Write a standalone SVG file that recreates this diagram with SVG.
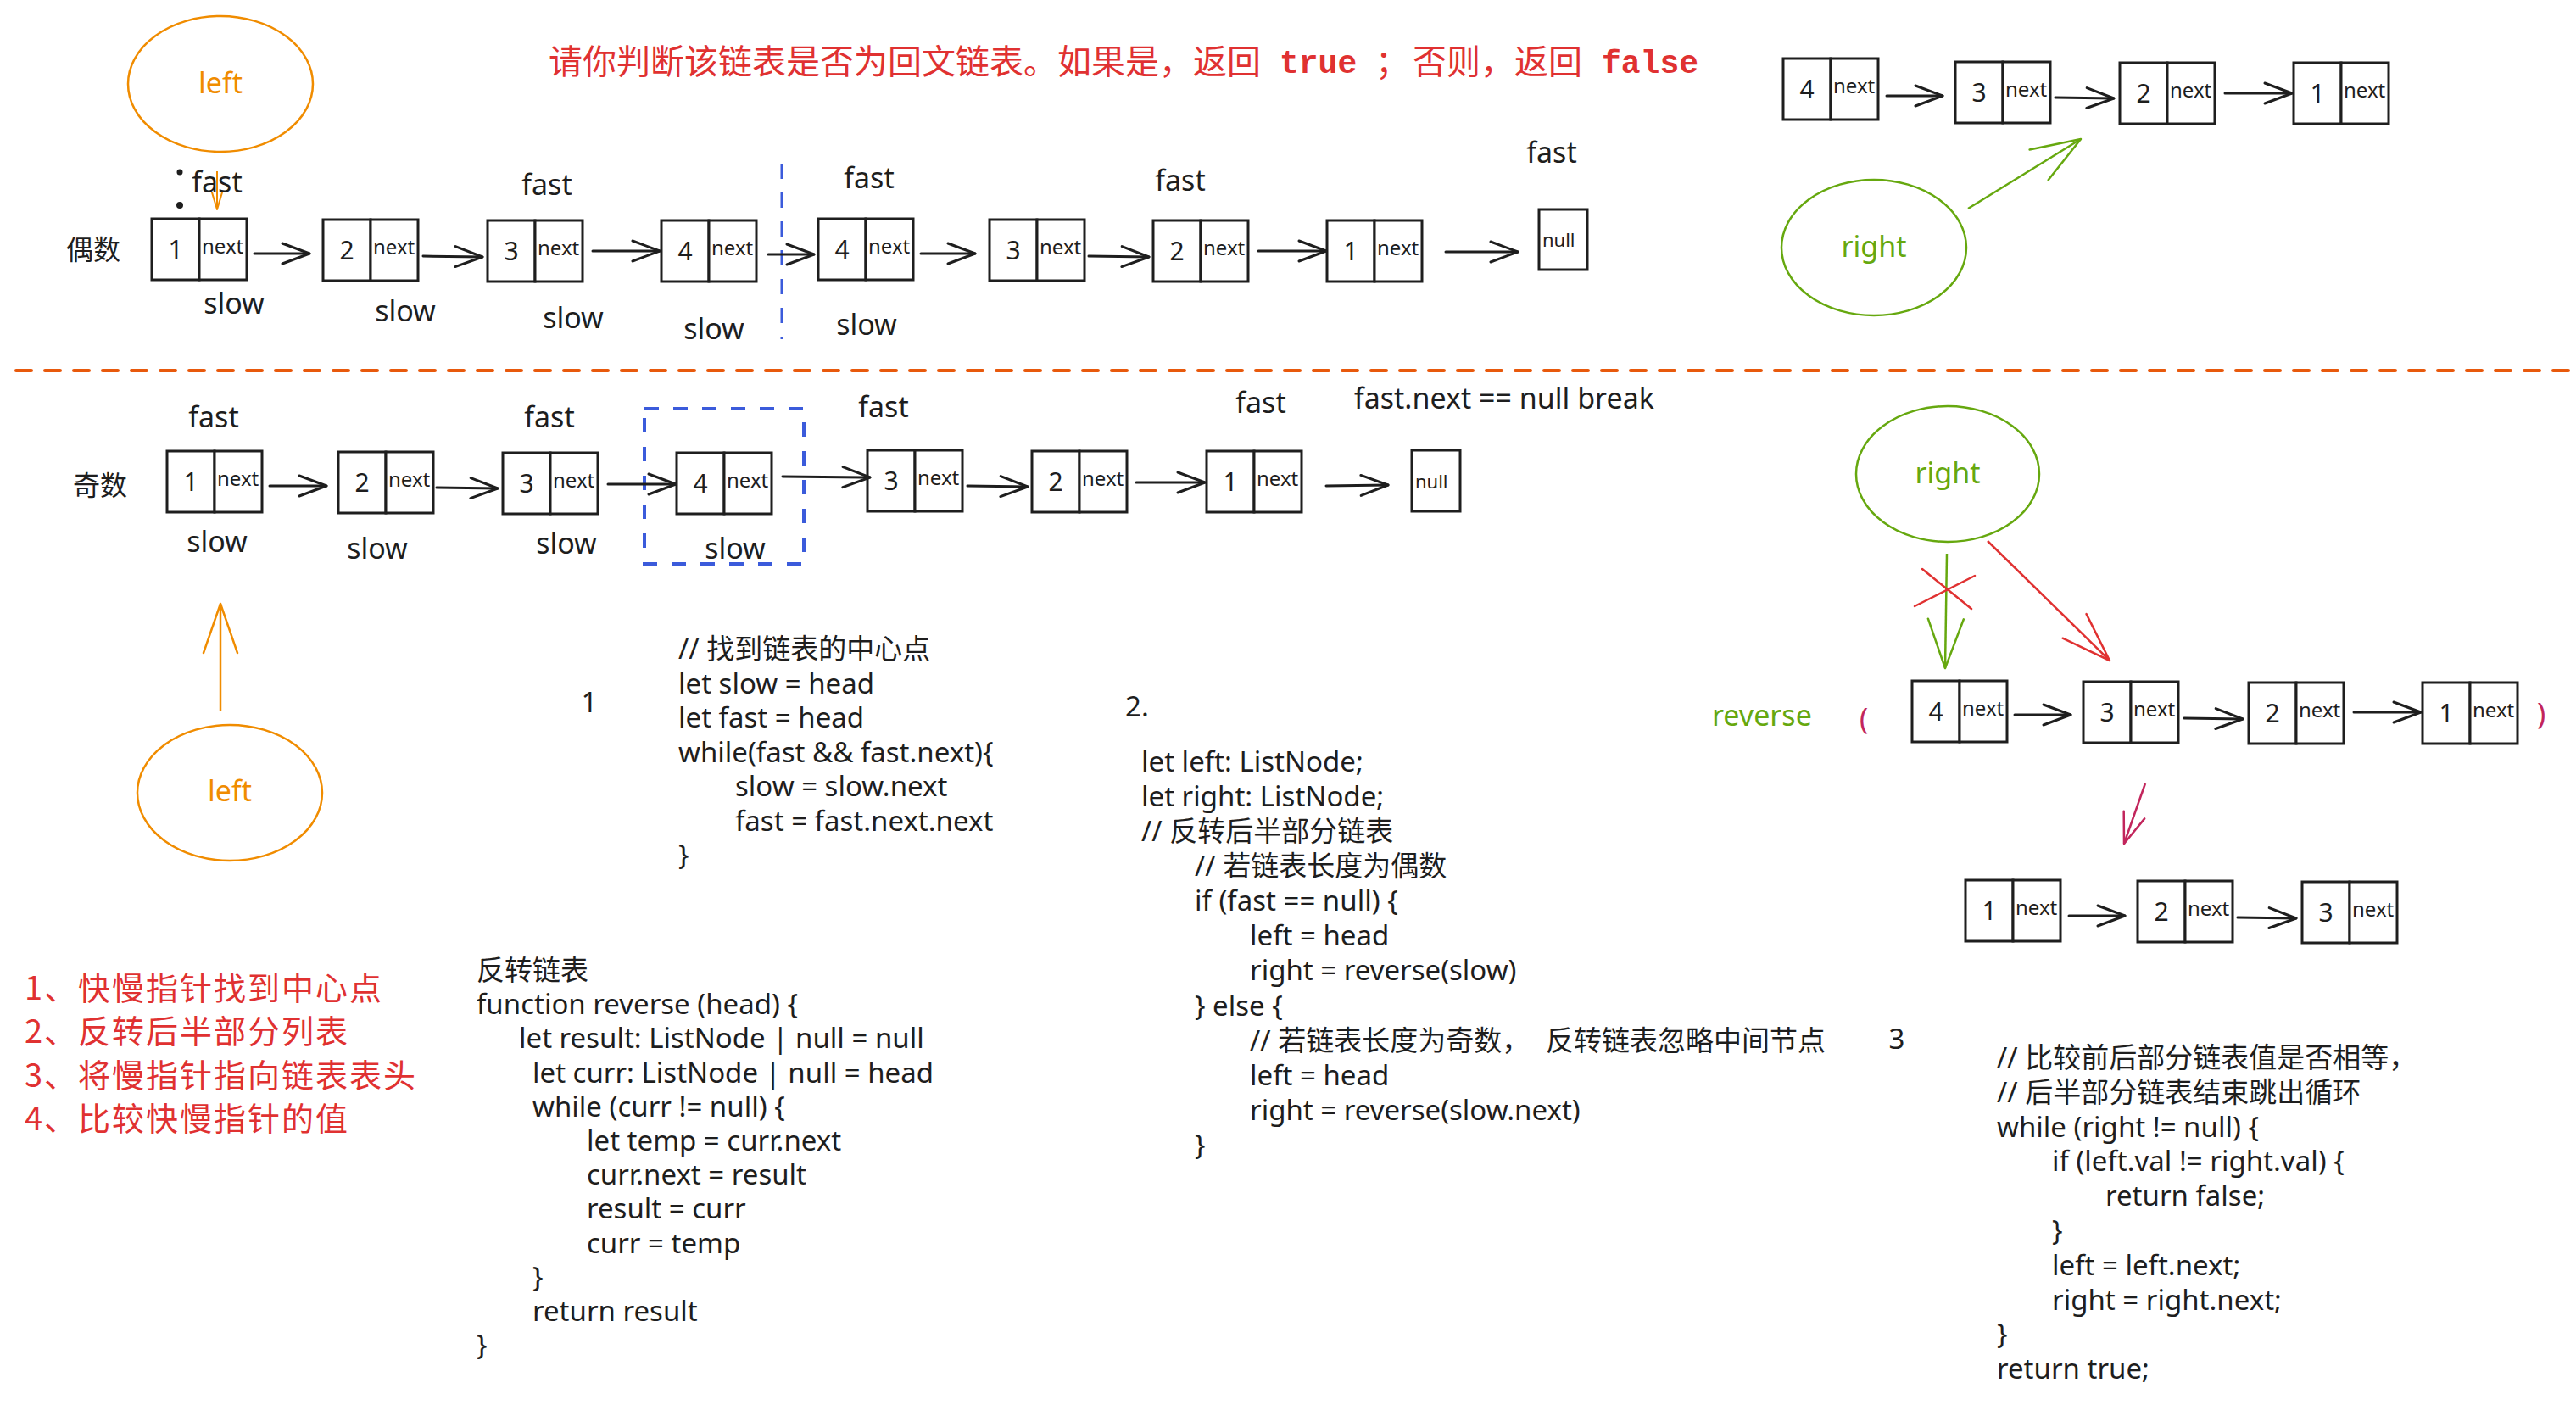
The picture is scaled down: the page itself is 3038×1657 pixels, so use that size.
<svg xmlns="http://www.w3.org/2000/svg" xmlns:xlink="http://www.w3.org/1999/xlink" width="3038" height="1657" viewBox="0 0 3038 1657">
<style>
  .t{font-family:"Noto Sans","Noto Sans CJK SC",sans-serif;fill:#1e1e1e}
  .code{font-size:33px}
  .lab{font-size:34px;text-anchor:middle}
  .num{font-size:30px;text-anchor:middle}
  .nx{font-size:24px}
  .cell{fill:#ffffff;stroke:#1e1e1e;stroke-width:3}
  .ln{fill:none;stroke:#1e1e1e;stroke-width:3;stroke-linecap:round;marker-end:url(#ahK)}
  .red{fill:#e03131}
  .orange{fill:#f08c00}
  .green{fill:#66a80f}
  .crim{fill:#c2255c}
</style>
<defs>
  <marker id="ahK" markerUnits="userSpaceOnUse" viewBox="-40 -20 44 40" markerWidth="44" markerHeight="40" refX="0" refY="0" orient="auto" overflow="visible"><path d="M-32,-12 L0,0 L-32,12" fill="none" stroke="#1e1e1e" stroke-width="3" stroke-linecap="round" stroke-linejoin="round"/></marker>
  <marker id="ahO" markerUnits="userSpaceOnUse" viewBox="-64 -26 68 52" markerWidth="68" markerHeight="52" refX="0" refY="0" orient="auto" overflow="visible"><path d="M-58,-20 L0,0 L-58,20" fill="none" stroke="#f08c00" stroke-width="2.5" stroke-linecap="round" stroke-linejoin="round"/></marker>
  <marker id="ahOs" markerUnits="userSpaceOnUse" viewBox="-24 -10 28 20" markerWidth="28" markerHeight="20" refX="0" refY="0" orient="auto" overflow="visible"><path d="M-20,-6 L0,0 L-20,6" fill="none" stroke="#f08c00" stroke-width="2" stroke-linecap="round" stroke-linejoin="round"/></marker>
  <marker id="ahG" markerUnits="userSpaceOnUse" viewBox="-64 -28 68 56" markerWidth="68" markerHeight="56" refX="0" refY="0" orient="auto" overflow="visible"><path d="M-58,-21 L0,0 L-58,21" fill="none" stroke="#66a80f" stroke-width="2.5" stroke-linecap="round" stroke-linejoin="round"/></marker>
  <marker id="ahR" markerUnits="userSpaceOnUse" viewBox="-64 -26 68 52" markerWidth="68" markerHeight="52" refX="0" refY="0" orient="auto" overflow="visible"><path d="M-58,-20 L0,0 L-58,20" fill="none" stroke="#e03131" stroke-width="2.5" stroke-linecap="round" stroke-linejoin="round"/></marker>
  <marker id="ahC" markerUnits="userSpaceOnUse" viewBox="-40 -18 44 36" markerWidth="44" markerHeight="36" refX="0" refY="0" orient="auto" overflow="visible"><path d="M-36,-13 L0,0 L-36,13" fill="none" stroke="#c2255c" stroke-width="2.5" stroke-linecap="round" stroke-linejoin="round"/></marker>
  <g id="node">
    <rect class="cell" x="0" y="0" width="56" height="72"/>
    <rect class="cell" x="56" y="0" width="56" height="72"/>
    <text class="t nx" x="59" y="41">next</text>
  </g>
</defs>
<rect x="0" y="0" width="3038" height="1657" fill="#ffffff"/>

<!-- title -->
<g id="title" font-size="40">
  <text x="647" y="87" font-family="Noto Sans CJK SC, sans-serif" class="red">请你判断该链表是否为回文链表。如果是，返回</text>
  <text x="1509" y="86" font-family="Liberation Mono, monospace" font-size="38" font-weight="bold" class="red">true</text>
  <text x="1622" y="87" font-family="Noto Sans CJK SC, sans-serif" class="red">；</text>
  <text x="1666" y="87" font-family="Noto Sans CJK SC, sans-serif" class="red">否则，返回</text>
  <text x="1889" y="86" font-family="Liberation Mono, monospace" font-size="38" font-weight="bold" class="red">false</text>
</g>

<!-- separators and highlights -->
<g id="separators">
  <line x1="19" y1="437" x2="3030" y2="437" stroke="#e8590c" stroke-width="4" stroke-dasharray="18 16" stroke-linecap="round"/>
  <line x1="922" y1="193" x2="922" y2="400" stroke="#3b5bdb" stroke-width="3" stroke-dasharray="18 16"/>
  <rect id="mid-box" x="760" y="482" width="188" height="183" fill="none" stroke="#3b5bdb" stroke-width="4" stroke-dasharray="17 17"/>
</g>

<!-- pointer ellipses -->
<g id="left-top"><ellipse cx="260" cy="99" rx="109" ry="80" fill="none" stroke="#f08c00" stroke-width="2.5"/><text class="t lab orange" x="260" y="110">left</text></g>
<g id="right-top"><ellipse cx="2210" cy="292" rx="109" ry="80" fill="none" stroke="#66a80f" stroke-width="2.5"/><text class="t lab green" x="2210" y="303">right</text></g>
<g id="right-bottom"><ellipse cx="2297" cy="559" rx="108" ry="80" fill="none" stroke="#66a80f" stroke-width="2.5"/><text class="t lab green" x="2297" y="570">right</text></g>
<g id="left-bottom"><ellipse cx="271" cy="935" rx="109" ry="80" fill="none" stroke="#f08c00" stroke-width="2.5"/><text class="t lab orange" x="271" y="945">left</text></g>

<!-- even row -->
<g id="even-label"><text class="t" font-size="32" x="78" y="306">偶数</text></g>
<g id="e1" transform="translate(179,258)"><use href="#node"/><text class="t num" x="28" y="47">1</text></g>
<g id="e2" transform="translate(381,259)"><use href="#node"/><text class="t num" x="28" y="47">2</text></g>
<g id="e3" transform="translate(575,260)"><use href="#node"/><text class="t num" x="28" y="47">3</text></g>
<g id="e4" transform="translate(780,260)"><use href="#node"/><text class="t num" x="28" y="47">4</text></g>
<g id="e5" transform="translate(965,258)"><use href="#node"/><text class="t num" x="28" y="47">4</text></g>
<g id="e6" transform="translate(1167,259)"><use href="#node"/><text class="t num" x="28" y="47">3</text></g>
<g id="e7" transform="translate(1360,260)"><use href="#node"/><text class="t num" x="28" y="47">2</text></g>
<g id="e8" transform="translate(1565,260)"><use href="#node"/><text class="t num" x="28" y="47">1</text></g>
<g id="enull" transform="translate(1815,247)"><rect class="cell" x="0" y="0" width="57" height="71"/><text class="t" font-size="22" x="4" y="44">null</text></g>

<g id="even-labels">
  <circle cx="212" cy="203" r="3.5" fill="#1e1e1e"/>
  <circle cx="212" cy="242" r="4" fill="#1e1e1e"/>
  <text class="t lab" x="256" y="227">fast</text>
  <text class="t lab" x="645" y="230">fast</text>
  <text class="t lab" x="1025" y="222">fast</text>
  <text class="t lab" x="1392" y="225">fast</text>
  <text class="t lab" x="1830" y="192">fast</text>
  <text class="t lab" x="276" y="370">slow</text>
  <text class="t lab" x="478" y="379">slow</text>
  <text class="t lab" x="676" y="387">slow</text>
  <text class="t lab" x="842" y="400">slow</text>
  <text class="t lab" x="1022" y="395">slow</text>
</g>

<!-- odd row -->
<g id="odd-label"><text class="t" font-size="32" x="86" y="584">奇数</text></g>
<g id="o1" transform="translate(197,532)"><use href="#node"/><text class="t num" x="28" y="47">1</text></g>
<g id="o2" transform="translate(399,533)"><use href="#node"/><text class="t num" x="28" y="47">2</text></g>
<g id="o3" transform="translate(593,534)"><use href="#node"/><text class="t num" x="28" y="47">3</text></g>
<g id="o4" transform="translate(798,534)"><use href="#node"/><text class="t num" x="28" y="47">4</text></g>
<g id="o5" transform="translate(1023,531)"><use href="#node"/><text class="t num" x="28" y="47">3</text></g>
<g id="o6" transform="translate(1217,532)"><use href="#node"/><text class="t num" x="28" y="47">2</text></g>
<g id="o7" transform="translate(1423,532)"><use href="#node"/><text class="t num" x="28" y="47">1</text></g>
<g id="onull" transform="translate(1665,531)"><rect class="cell" x="0" y="0" width="57" height="72"/><text class="t" font-size="22" x="4" y="45">null</text></g>

<g id="odd-labels">
  <text class="t lab" x="252" y="504">fast</text>
  <text class="t lab" x="648" y="504">fast</text>
  <text class="t lab" x="1042" y="492">fast</text>
  <text class="t lab" x="1487" y="487">fast</text>
  <text class="t" font-size="34" x="1597" y="482">fast.next == null break</text>
  <text class="t lab" x="256" y="651">slow</text>
  <text class="t lab" x="445" y="659">slow</text>
  <text class="t lab" x="668" y="653">slow</text>
  <text class="t lab" x="867" y="659">slow</text>
</g>

<!-- top-right reversed list -->
<g id="r1" transform="translate(2103,69)"><use href="#node"/><text class="t num" x="28" y="47">4</text></g>
<g id="r2" transform="translate(2306,73)"><use href="#node"/><text class="t num" x="28" y="47">3</text></g>
<g id="r3" transform="translate(2500,74)"><use href="#node"/><text class="t num" x="28" y="47">2</text></g>
<g id="r4" transform="translate(2705,74)"><use href="#node"/><text class="t num" x="28" y="47">1</text></g>

<!-- reverse(...) row -->
<g id="reverse-label">
  <text class="t green" font-size="34" x="2019" y="856">reverse</text>
  <text class="t crim" font-size="34" x="2193" y="860">(</text>
  <text class="t crim" font-size="34" x="2992" y="854">)</text>
</g>
<g id="v1" transform="translate(2255,803)"><use href="#node"/><text class="t num" x="28" y="47">4</text></g>
<g id="v2" transform="translate(2457,804)"><use href="#node"/><text class="t num" x="28" y="47">3</text></g>
<g id="v3" transform="translate(2652,805)"><use href="#node"/><text class="t num" x="28" y="47">2</text></g>
<g id="v4" transform="translate(2857,805)"><use href="#node"/><text class="t num" x="28" y="47">1</text></g>

<g id="w1" transform="translate(2318,1038)"><use href="#node"/><text class="t num" x="28" y="47">1</text></g>
<g id="w2" transform="translate(2521,1039)"><use href="#node"/><text class="t num" x="28" y="47">2</text></g>
<g id="w3" transform="translate(2715,1040)"><use href="#node"/><text class="t num" x="28" y="47">3</text></g>

<!-- connectors -->
<g id="connectors">
  <line class="ln" x1="300" y1="299" x2="365" y2="299"/>
  <line class="ln" x1="499" y1="302" x2="569" y2="303"/>
  <line class="ln" x1="699" y1="296" x2="778" y2="296"/>
  <line class="ln" x1="906" y1="300" x2="960" y2="300"/>
  <line class="ln" x1="1086" y1="299" x2="1150" y2="299"/>
  <line class="ln" x1="1284" y1="302" x2="1355" y2="303"/>
  <line class="ln" x1="1484" y1="296" x2="1564" y2="296"/>
  <line class="ln" x1="1705" y1="297" x2="1790" y2="297"/>

  <line class="ln" x1="318" y1="573" x2="385" y2="573"/>
  <line class="ln" x1="515" y1="575" x2="587" y2="576"/>
  <line class="ln" x1="717" y1="571" x2="797" y2="571"/>
  <line class="ln" x1="923" y1="562" x2="1026" y2="563"/>
  <line class="ln" x1="1141" y1="573" x2="1212" y2="574"/>
  <line class="ln" x1="1340" y1="569" x2="1421" y2="569"/>
  <line class="ln" x1="1564" y1="573" x2="1637" y2="572"/>

  <line class="ln" x1="2225" y1="113" x2="2291" y2="113"/>
  <line class="ln" x1="2424" y1="115" x2="2493" y2="116"/>
  <line class="ln" x1="2624" y1="110" x2="2703" y2="110"/>

  <line class="ln" x1="2376" y1="843" x2="2442" y2="843"/>
  <line class="ln" x1="2576" y1="847" x2="2645" y2="848"/>
  <line class="ln" x1="2776" y1="840" x2="2855" y2="840"/>

  <line class="ln" x1="2440" y1="1080" x2="2506" y2="1080"/>
  <line class="ln" x1="2639" y1="1082" x2="2708" y2="1083"/>

  <line x1="256" y1="202" x2="256" y2="247" stroke="#f08c00" stroke-width="2" marker-end="url(#ahOs)"/>
  <line x1="260" y1="838" x2="260" y2="712" stroke="#f08c00" stroke-width="2.5" marker-end="url(#ahO)"/>
  <line x1="2321" y1="246" x2="2454" y2="164" stroke="#66a80f" stroke-width="2.5" marker-end="url(#ahG)"/>
  <line x1="2296" y1="653" x2="2294" y2="788" stroke="#66a80f" stroke-width="2.5" marker-end="url(#ahG)"/>
  <line x1="2344" y1="638" x2="2488" y2="779" stroke="#e03131" stroke-width="2.5" marker-end="url(#ahR)"/>
  <line x1="2530" y1="924" x2="2505" y2="995" stroke="#c2255c" stroke-width="2.5" marker-end="url(#ahC)"/>
  <g id="cross" stroke="#e03131" stroke-width="2.5" stroke-linecap="round">
    <line x1="2267" y1="671" x2="2325" y2="718"/>
    <line x1="2258" y1="715" x2="2329" y2="679"/>
  </g>
</g>

<!-- step list -->
<g id="steps" class="red" font-family="Noto Sans CJK SC, sans-serif" font-size="38" letter-spacing="2">
  <text x="29" y="1179">1、快慢指针找到中心点</text>
  <text x="29" y="1230">2、反转后半部分列表</text>
  <text x="29" y="1282">3、将慢指针指向链表表头</text>
  <text x="29" y="1333">4、比较快慢指针的值</text>
</g>

<!-- code 1: find middle -->
<g id="code1" class="t code">
  <text x="695" y="840" text-anchor="middle">1</text>
  <text x="800" y="777">// 找到链表的中心点</text>
  <text x="800" y="818">let slow = head</text>
  <text x="800" y="858">let fast = head</text>
  <text x="800" y="899">while(fast &amp;&amp; fast.next){</text>
  <text x="867" y="939">slow = slow.next</text>
  <text x="867" y="980">fast = fast.next.next</text>
  <text x="800" y="1020">}</text>
</g>

<!-- code 2: reverse second half -->
<g id="code2" class="t code">
  <text x="1327" y="845">2.</text>
  <text x="1346" y="910">let left: ListNode;</text>
  <text x="1346" y="951">let right: ListNode;</text>
  <text x="1346" y="992">// 反转后半部分链表</text>
  <text x="1409" y="1033">// 若链表长度为偶数</text>
  <text x="1409" y="1074">if (fast == null) {</text>
  <text x="1474" y="1115">left = head</text>
  <text x="1474" y="1156">right = reverse(slow)</text>
  <text x="1409" y="1198">} else {</text>
  <text x="1474" y="1239">// 若链表长度为奇数，<tspan x="1823">反转链表忽略中间节点</tspan></text>
  <text x="1474" y="1280">left = head</text>
  <text x="1474" y="1321">right = reverse(slow.next)</text>
  <text x="1409" y="1362">}</text>
</g>

<!-- code 3: compare -->
<g id="code3" class="t code">
  <text x="2237" y="1237" text-anchor="middle">3</text>
  <text x="2355" y="1259">// 比较前后部分链表值是否相等，</text>
  <text x="2355" y="1300">// 后半部分链表结束跳出循环</text>
  <text x="2355" y="1341">while (right != null) {</text>
  <text x="2420" y="1381">if (left.val != right.val) {</text>
  <text x="2483" y="1422">return false;</text>
  <text x="2420" y="1463">}</text>
  <text x="2420" y="1504">left = left.next;</text>
  <text x="2420" y="1545">right = right.next;</text>
  <text x="2355" y="1585">}</text>
  <text x="2355" y="1626">return true;</text>
</g>

<!-- code 4: reverse function -->
<g id="code4" class="t code">
  <text x="562" y="1156">反转链表</text>
  <text x="562" y="1196">function reverse (head) {</text>
  <text x="612" y="1236">let result: ListNode | null = null</text>
  <text x="628" y="1277">let curr: ListNode | null = head</text>
  <text x="628" y="1317">while (curr != null) {</text>
  <text x="692" y="1357">let temp = curr.next</text>
  <text x="692" y="1397">curr.next = result</text>
  <text x="692" y="1437">result = curr</text>
  <text x="692" y="1478">curr = temp</text>
  <text x="628" y="1518">}</text>
  <text x="628" y="1558">return result</text>
  <text x="562" y="1598">}</text>
</g>
</svg>
